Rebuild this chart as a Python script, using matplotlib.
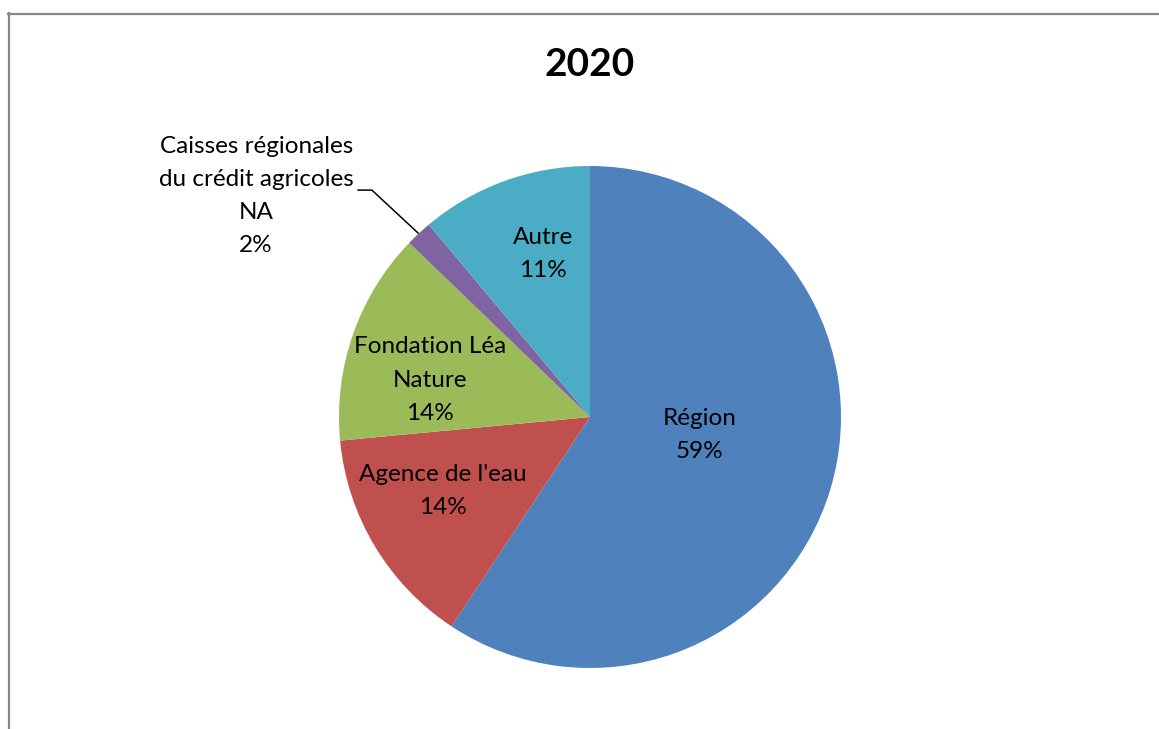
import matplotlib
matplotlib.use("Agg")
import matplotlib.pyplot as plt
from matplotlib.lines import Line2D

# données du graphique 2020
labels = ["Région", "Agence de l'eau", "Fondation Léa\nNature", "Caisses régionales\ndu crédit agricoles\nNA", "Autre"]
values = [59.3, 14.2, 13.7, 1.7, 11.1]
pct_labels = ["59%", "14%", "14%", "2%", "11%"]
colors = ["#4F81BD", "#C0504D", "#9BBB59", "#8064A2", "#4BACC6"]

plt.rcParams['font.family'] = ['Lato', 'DejaVu Sans']

W, H = 1159, 729
fig = plt.figure(figsize=(W / 100, H / 100), dpi=100)

cx, cy, r = 590, 417, 251  # centre et rayon du camembert (px)
ax = fig.add_axes([(cx - r) / W, (H - cy - r) / H, 2 * r / W, 2 * r / H])
ax.pie(values, colors=colors, startangle=90, counterclock=False,
       wedgeprops=dict(linewidth=0))
ax.set_xlim(-1, 1)
ax.set_ylim(-1, 1)
ax.set_aspect('equal')
ax.axis('off')

# position des étiquettes (coordonnées du camembert)
label_pos = [(0.438, -0.072), (-0.586, -0.295), (-0.637, 0.147), (-1.33, 0.880), (-0.187, 0.649)]
for lab, pct, (x, y) in zip(labels, pct_labels, label_pos):
    ax.text(x, y, lab + "\n" + pct, ha='center', va='center', fontsize=17.5,
            linespacing=1.72, clip_on=False)

# ligne de repère pour "Caisses"
ax.add_line(Line2D([-0.924, -0.869, -0.685], [0.904, 0.904, 0.733],
                   color='black', linewidth=1.1, clip_on=False))

fig.text(590 / W, 1 - 65 / H, "2020", ha='center', va='center',
         fontsize=28, fontweight='bold')

# cadre gris
fig.add_artist(Line2D([8 / W, 1], [1 - 13.5 / H, 1 - 13.5 / H], color='#888888', linewidth=1.6))
fig.add_artist(Line2D([8.5 / W, 8.5 / W], [0, 1 - 13 / H], color='#888888', linewidth=1.6))

fig.savefig("out.png", dpi=100)
